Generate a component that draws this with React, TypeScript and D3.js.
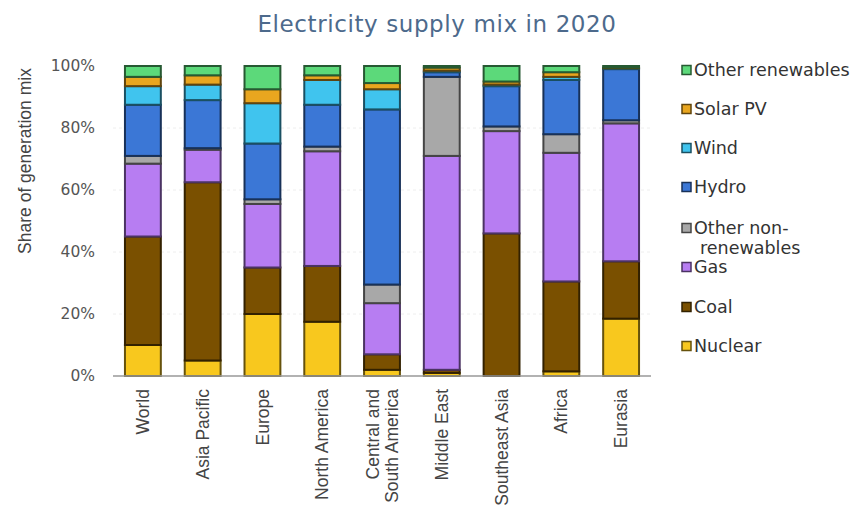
import React from "react";
import * as d3 from "d3";

const regions = ["World", "Asia Pacific", "Europe", "North America", "Central and South America", "Middle East", "Southeast Asia", "Africa", "Eurasia"];
const regionLines = [["World"], ["Asia Pacific"], ["Europe"], ["North America"], ["Central and", "South America"], ["Middle East"], ["Southeast Asia"], ["Africa"], ["Eurasia"]];

const sources = ["Nuclear", "Coal", "Gas", "Other non-renewables", "Hydro", "Wind", "Solar PV", "Other renewables"];
const colors = ["#F8C81E", "#7A5000", "#B77DF2", "#A8A8A8", "#3B77D6", "#40C4EE", "#E9A61F", "#5CD97A"];

const nuclear = [10, 5, 20, 17.5, 2, 1, 0, 1.5, 18.5];
const coal = [35, 57.5, 15, 18, 5, 1, 46, 29, 18.5];
const gas = [23.5, 10.5, 20.5, 37, 16.5, 69, 33, 41.5, 44.5];
const otherNonRen = [2.5, 0.5, 1.5, 1.5, 6, 25.5, 1.5, 6, 1];
const hydro = [16.5, 15.5, 18, 13.5, 56.5, 1.5, 13, 17.5, 16.5];
const wind = [6, 5, 13, 8, 6.5, 0.5, 0.5, 1, 0.3];
const solar = [3, 3, 4.5, 1.5, 2, 1, 1, 1.5, 0.2];
const otherRen = [3.5, 3, 7.5, 3, 5.5, 0.5, 5, 2, 0.5];

const yTicks = [0, 20, 40, 60, 80, 100];

const series = [nuclear, coal, gas, otherNonRen, hydro, wind, solar, otherRen];

export default function App() {
  const W = 855, H = 515;
  const x0 = 113, x1 = 651, yTop = 66, yBot = 376;
  const x = d3.scaleBand<string>().domain(regions).range([x0, x1]).paddingInner(0.4).paddingOuter(0.2);
  const y = d3.scaleLinear().domain([0, 100]).range([yBot, yTop]);

  const rows = regions.map((r, i) => {
    const o: any = { region: r };
    sources.forEach((s, k) => (o[s] = series[k][i]));
    return o;
  });
  const stacked = d3.stack<any>().keys(sources)(rows);

  const legendY = [70, 109, 148, 187, 228, 267, 307, 346];
  const font = "'Liberation Sans', Arial, sans-serif";
  const wide = "'DejaVu Sans', sans-serif";

  return (
    <svg width={W} height={H} style={{ position: "absolute", left: 0, top: 0, background: "#fff" }}>
      <text x={437} y={32} textAnchor="middle" fontFamily={wide} fontSize={23} letterSpacing={0.6} fill="#4d6a8c">
        Electricity supply mix in 2020
      </text>
      {yTicks.map((t) => (
        <g key={t}>
          {t > 0 && t < 100 && (
            <line x1={x0} x2={x1} y1={y(t)} y2={y(t)} stroke="#eeeeee" strokeDasharray="3,3" />
          )}
          <text x={95} y={y(t)} dy="0.35em" textAnchor="end" fontFamily={wide} fontSize={15.5} fill="#555">
            {t}%
          </text>
        </g>
      ))}
      <text transform={`translate(25,161) rotate(-90)`} dy="0.35em" textAnchor="middle" fontFamily={font} fontSize={17.5} fill="#444">
        Share of generation mix
      </text>
      {stacked.map((s, k) => (
        <g key={sources[k]}>
          {s.map((d, i) => {
            const h = y(d[0]) - y(d[1]);
            if (h <= 0) return null;
            return (
              <rect
                key={i}
                x={x(regions[i])!}
                y={y(d[1])}
                width={x.bandwidth()}
                height={h}
                fill={colors[k]}
                stroke={d3.color(colors[k])!.darker(2.5).formatHex()}
                strokeWidth={2}
              />
            );
          })}
        </g>
      ))}
      <line x1={x0} x2={x1} y1={yBot} y2={yBot} stroke="#999" strokeWidth={1.5} />
      {regionLines.map((lines, i) => {
        const cx = x(regions[i])! + x.bandwidth() / 2;
        return (
          <text key={i} transform={`translate(${cx},389) rotate(-90)`} textAnchor="end" fontFamily={font} fontSize={17.5} fill="#444">
            {lines.map((l, j) => (
              <tspan key={j} x={0} dy={lines.length === 1 ? "0.35em" : j === 0 ? "-0.2em" : "1.1em"}>
                {l}
              </tspan>
            ))}
          </text>
        );
      })}
      {sources
        .slice()
        .reverse()
        .map((s, j) => {
          const k = sources.length - 1 - j;
          const ly = legendY[j];
          const isTwo = s === "Other non-renewables";
          return (
            <g key={s}>
              <rect x={682} y={ly - 4.5} width={9} height={9} fill={colors[k]} stroke={d3.color(colors[k])!.darker(2.5).formatHex()} strokeWidth={1.5} />
              <text x={694} y={ly} dy="0.35em" fontFamily={wide} fontSize={17.5} fill="#333">
                {isTwo ? (
                  <>
                    <tspan x={694}>Other non-</tspan>
                    <tspan x={700} dy="1.15em">renewables</tspan>
                  </>
                ) : (
                  s
                )}
              </text>
            </g>
          );
        })}
    </svg>
  );
}
